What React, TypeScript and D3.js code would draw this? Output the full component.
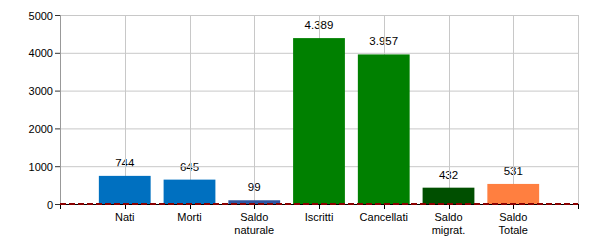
import React from "react";
import * as d3 from "d3";

const categories: string[][] = [
  ["Nati"],
  ["Morti"],
  ["Saldo", "naturale"],
  ["Iscritti"],
  ["Cancellati"],
  ["Saldo", "migrat."],
  ["Saldo", "Totale"],
];
const values: number[] = [744, 645, 99, 4389, 3957, 432, 531];
const colors: string[] = ["#0070C0", "#0070C0", "#2F55A0", "#008000", "#008000", "#004F00", "#FF7F40"];
const yTicks: number[] = [0, 1000, 2000, 3000, 4000, 5000];

const W = 600, H = 250;
const left = 60, right = 578, top = 15, bottom = 204;
const font = "'Liberation Sans', Arial, sans-serif";
const fmt = (v: number) => d3.format(",")(v).replace(/,/g, ".");

export default function App() {
  const x = d3.scaleLinear().domain([0, categories.length + 1]).range([left, right]);
  const y = d3.scaleLinear().domain([0, 5000]).range([bottom, top]);
  const step = x(1) - x(0);
  const bw = step * 0.8;
  const idx = d3.range(1, categories.length + 1);
  return (
    <svg width={W} height={H} style={{ display: "block", position: "absolute", left: 0, top: 0 }} fontFamily={font}>
      <rect x={0} y={0} width={W} height={H} fill="#fff" />
      {values.map((v, i) => (
        <text key={"vl" + i} x={x(i + 1)} y={y(v) - 9} textAnchor="middle" fontSize={11.5} fill="#000">{fmt(v)}</text>
      ))}
      {yTicks.map((t) => (
        <line key={"hg" + t} x1={left} x2={right} y1={y(t) + 0.5} y2={y(t) + 0.5} stroke="#c8c8c8" />
      ))}
      {[...idx, categories.length + 1].map((i) => (
        <line key={"vg" + i} x1={Math.round(x(i)) + 0.5} x2={Math.round(x(i)) + 0.5} y1={top} y2={bottom} stroke="#c8c8c8" />
      ))}
      <line x1={left + 0.5} x2={left + 0.5} y1={top} y2={bottom} stroke="#999" />
      {yTicks.map((t) => (
        <g key={"yt" + t}>
          <line x1={left - 5} x2={left} y1={y(t) + 0.5} y2={y(t) + 0.5} stroke="#333" />
          <text x={left - 7} y={y(t) + 4.5} textAnchor="end" fontSize={11} fill="#000">{t}</text>
        </g>
      ))}
      {values.map((v, i) => {
        const cx = x(i + 1);
        return <rect key={"b" + i} x={cx - bw / 2} y={y(v)} width={bw} height={y(0) - y(v)} fill={colors[i]} />;
      })}
      <line x1={left} x2={right} y1={bottom + 0.5} y2={bottom + 0.5} stroke="#000" />
      {[0, ...idx, categories.length + 1].map((i) => (
        <line key={"xt" + i} x1={Math.round(x(i)) + 0.5} x2={Math.round(x(i)) + 0.5} y1={bottom} y2={bottom + 5} stroke="#000" />
      ))}
      <line x1={left} x2={right} y1={bottom} y2={bottom} stroke="#8B0000" strokeWidth={2} strokeDasharray="6,3" />
      {categories.map((lines, i) => (
        <text key={"c" + i} x={x(i + 1)} y={221} textAnchor="middle" fontSize={11} fill="#000">
          {lines.map((l, j) => (
            <tspan key={j} x={x(i + 1)} dy={j === 0 ? 0 : 12.5}>{l}</tspan>
          ))}
        </text>
      ))}
    </svg>
  );
}
